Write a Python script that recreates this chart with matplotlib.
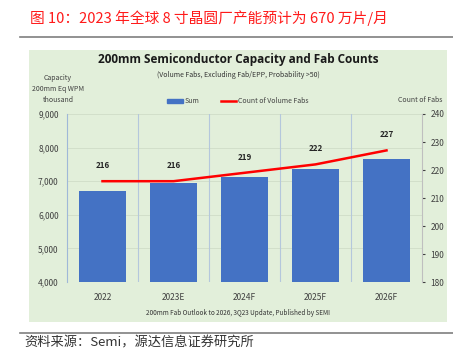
import matplotlib
matplotlib.use("Agg")
import matplotlib.pyplot as plt
from matplotlib.patches import Rectangle
from matplotlib.lines import Line2D

plt.rcParams['font.family'] = ['Noto Sans CJK SC', 'DejaVu Sans']

categories = ["2022", "2023E", "2024F", "2025F", "2026F"]
capacity = [6710, 6940, 7130, 7350, 7650]
fab_counts = [216, 216, 219, 222, 227]
left_ticks = [4000, 5000, 6000, 7000, 8000, 9000]
right_ticks = [180, 190, 200, 210, 220, 230, 240]

W, H = 453, 351
fig = plt.figure(figsize=(W/100, H/100), dpi=100)
fig.patch.set_facecolor("white")

def fx(px): return px / W
def fy(py): return 1 - py / H

# header title
fig.text(fx(30), fy(18), "图 10：2023 年全球 8 寸晶圆厂产能预计为 670 万片/月",
         color="#ff1a1a", fontsize=10.6, va="center", ha="left")
fig.add_artist(Line2D([fx(20), fx(453)], [fy(37), fy(37)], color="#7f7f7f", lw=1.2))
fig.add_artist(Line2D([fx(20), fx(453)], [fy(333), fy(333)], color="#7f7f7f", lw=1.2))
fig.text(fx(24), fy(350), "资料来源：Semi，源达信息证券研究所", color="#333333",
         fontsize=9.5, va="bottom", ha="left")

# green panel
fig.add_artist(Rectangle((fx(29), fy(322)), fx(447) - fx(29), fy(50) - fy(322),
                         transform=fig.transFigure, facecolor="#e2efda", edgecolor="none", zorder=0))

fig.text(fx(238), fy(59), "200mm Semiconductor Capacity and Fab Counts", fontsize=8.5,
         fontweight="bold", ha="center", va="center", color="#1a1a1a", family=["Open Sans", "DejaVu Sans"])
fig.text(fx(238), fy(75), "(Volume Fabs, Excluding Fab/EPP, Probability >50)", fontsize=5,
         ha="center", va="center", color="#333333")
fig.text(fx(58), fy(89), "Capacity\n200mm Eq WPM\nthousand", fontsize=5, ha="center",
         va="center", color="#404040", linespacing=1.5)
fig.text(fx(420), fy(100), "Count of Fabs", fontsize=5, ha="center", va="center", color="#404040")
fig.text(fx(238), fy(313), "200mm Fab Outlook to 2026, 3Q23 Update, Published by SEMI",
         fontsize=4.6, ha="center", va="center", color="#333333")

ax = fig.add_axes([fx(67), fy(282), fx(422) - fx(67), fy(114) - fy(282)])
ax.set_facecolor("none")
x = list(range(len(categories)))
ax.bar(x, capacity, width=0.67, color="#4472c4", zorder=3, bottom=0, label="Sum")
ax.set_ylim(4000, 9000)
ax.set_xlim(-0.5, len(categories) - 0.5)
ax.set_yticks(left_ticks)
ax.set_yticklabels([f"{v:,}" for v in left_ticks])
ax.set_xticks(x)
ax.set_xticklabels(categories)
ax.tick_params(axis="both", labelsize=6, colors="#404040", length=0, pad=6)
ax.tick_params(axis="x", pad=8)
for v in left_ticks:
    ax.axhline(v, color="#d0dcc8", lw=0.6, zorder=1)
for b in [0.5, 1.5, 2.5, 3.5]:
    ax.axvline(b, color="#b4c7dc", lw=0.8, zorder=1)
for s in ["top", "right", "bottom"]:
    ax.spines[s].set_visible(False)
ax.spines["left"].set_color("#9fb8d8")
ax.spines["left"].set_linewidth(0.8)

ax2 = ax.twinx()
ax2.plot(x, fab_counts, color="#ff0000", lw=1.8, zorder=4, label="Count of Volume Fabs")
ax2.set_ylim(180, 240)
ax2.set_yticks(right_ticks)
ax2.tick_params(axis="y", labelsize=6, colors="#404040", length=2, pad=4)
for s in ["top", "left", "bottom"]:
    ax2.spines[s].set_visible(False)
ax2.spines["right"].set_color("#bfbfbf")
ax2.spines["right"].set_linewidth(0.8)
for xi, v in zip(x, fab_counts):
    ax2.annotate(str(v), (xi, v), xytext=(0, 8), textcoords="offset points",
                 ha="center", va="bottom", fontsize=5.8, fontweight="bold", color="#262626")

handles = [Rectangle((0, 0), 1, 1, color="#4472c4"),
           Line2D([0], [0], color="#ff0000", lw=1.8)]
fig.legend(handles, ["Sum", "Count of Volume Fabs"], loc="center", bbox_to_anchor=(fx(238), fy(101)),
           ncol=2, frameon=False, fontsize=5, handlelength=2.2, handleheight=0.5,
           columnspacing=3, labelcolor="#404040", handletextpad=0.3)

fig.savefig("out.png", dpi=100)
